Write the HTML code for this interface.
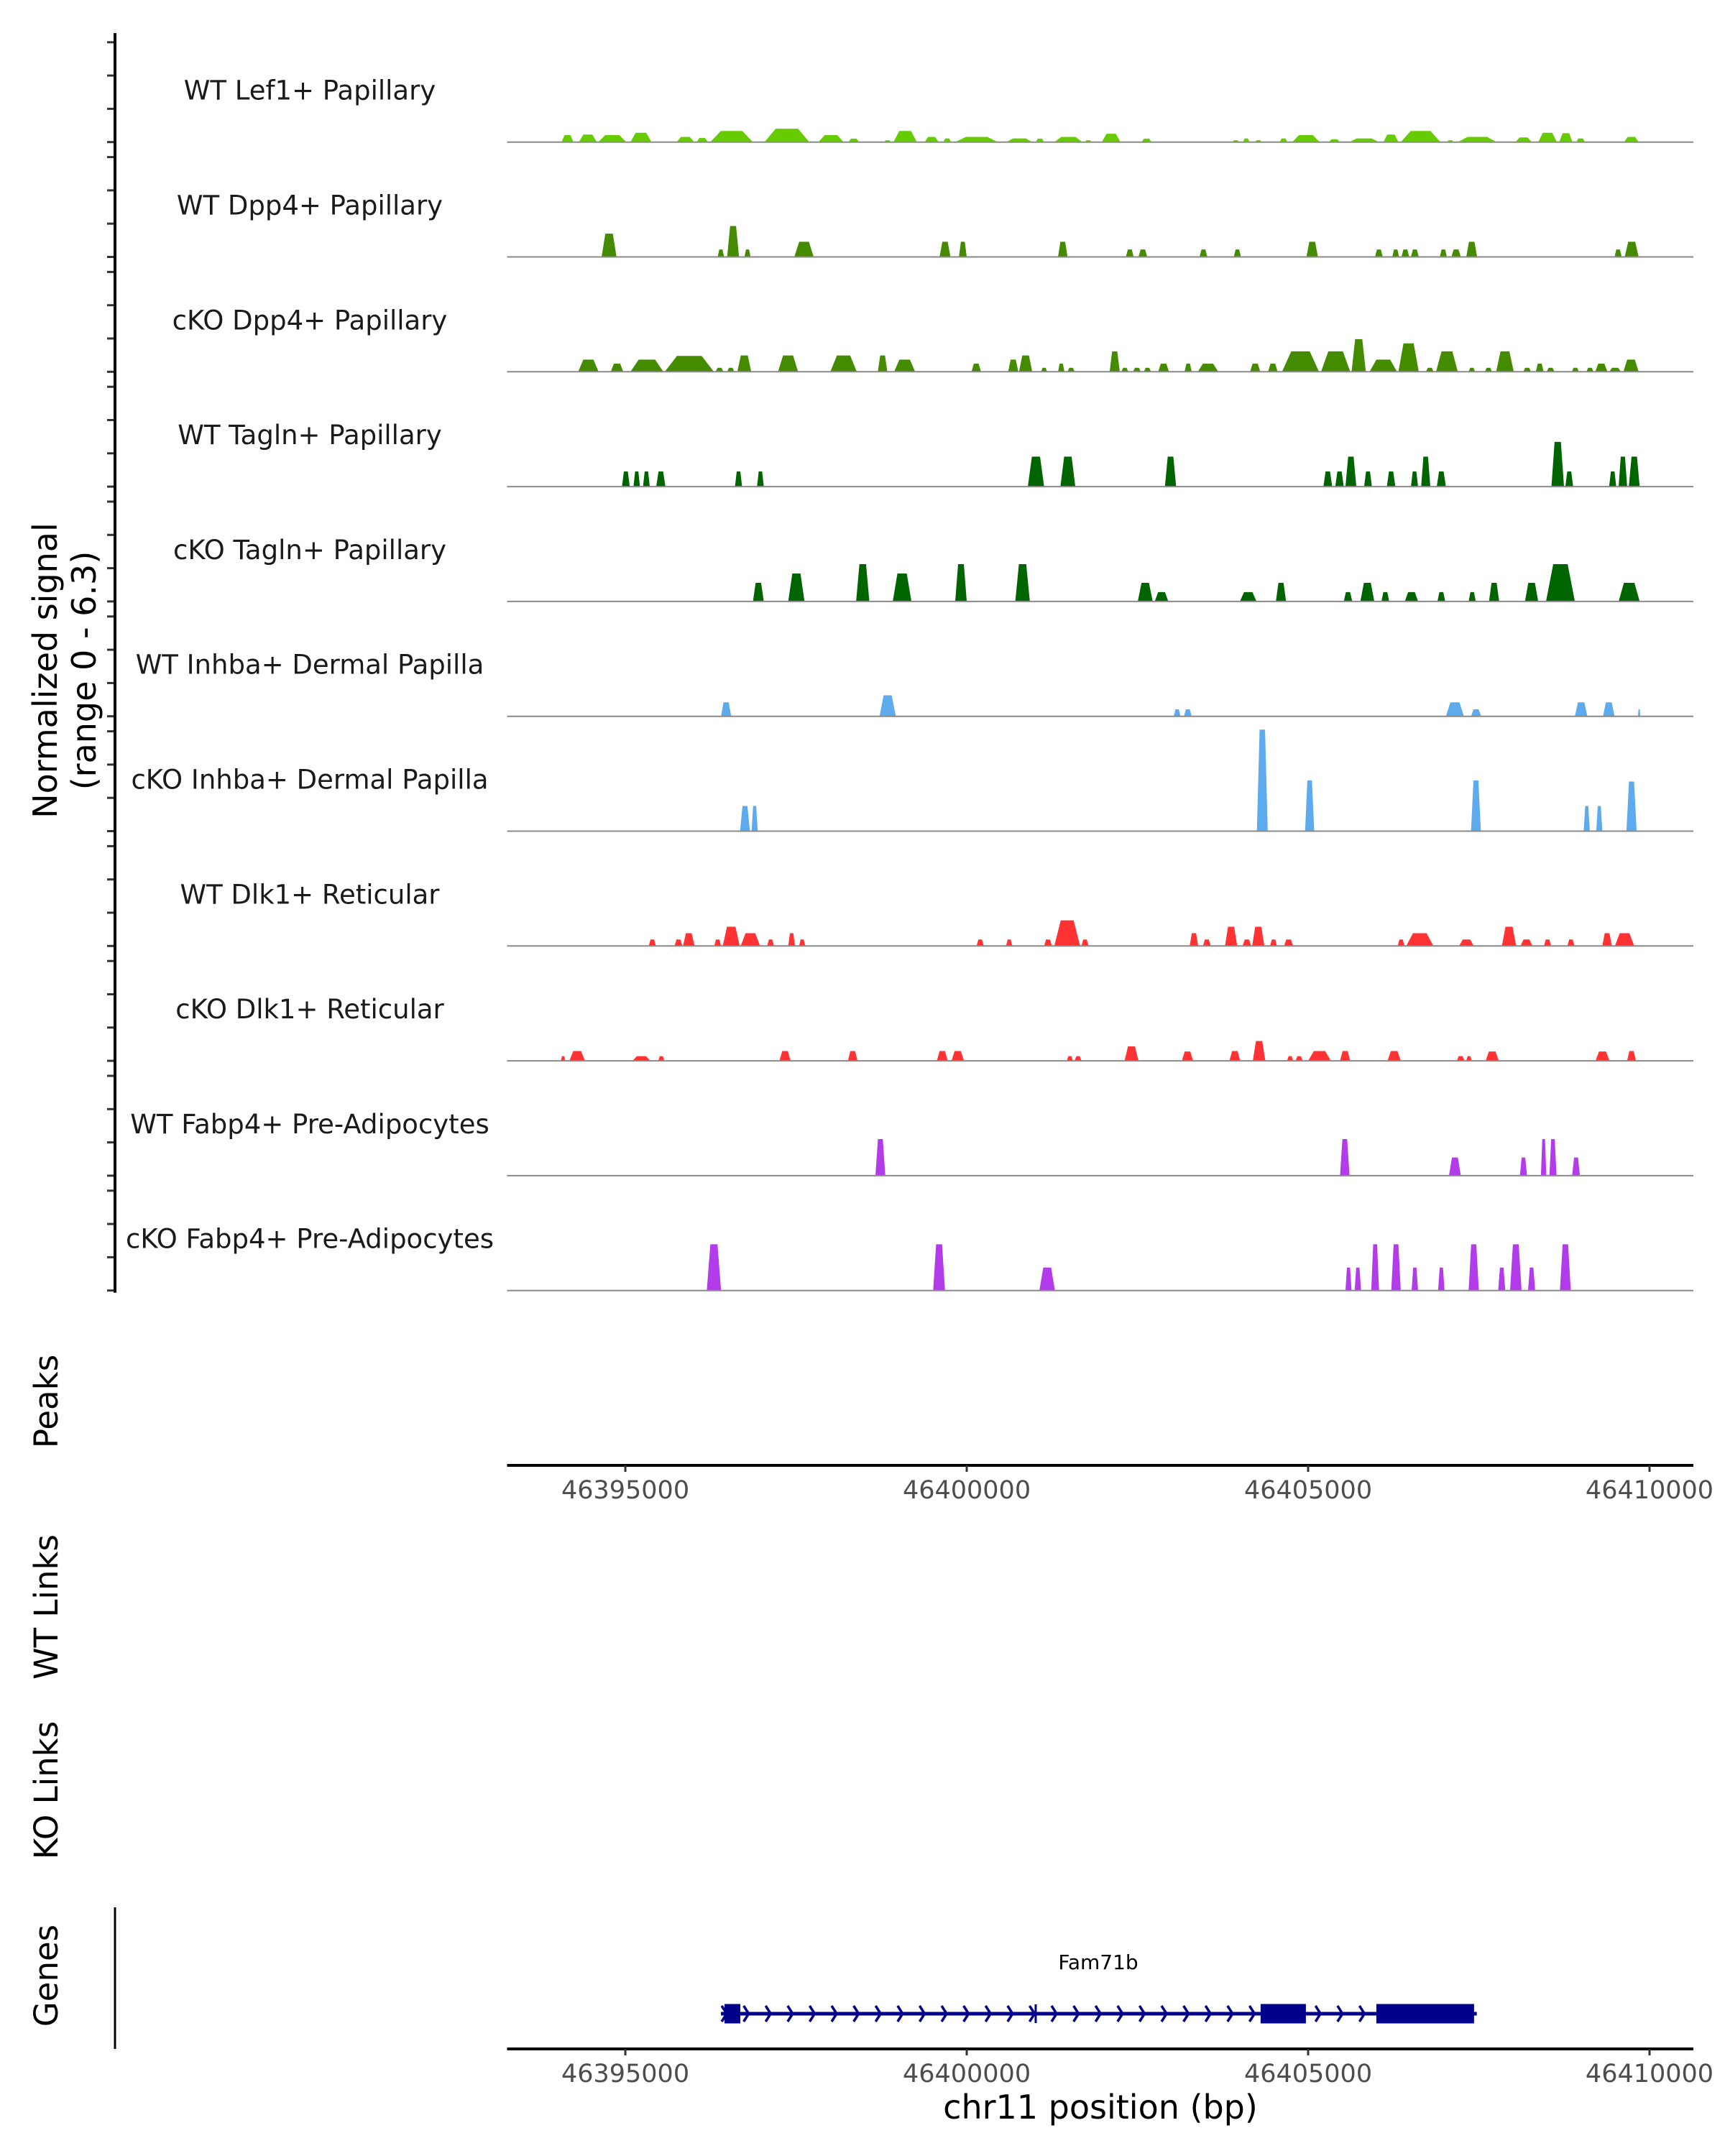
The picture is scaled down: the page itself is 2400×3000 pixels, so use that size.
<!DOCTYPE html>
<html><head><meta charset="utf-8"><style>
html,body{margin:0;padding:0;background:#fff}
svg{display:block}
text{font-family:"DejaVu Sans","Liberation Sans",sans-serif}
</style></head><body>
<svg id="chart" width="2400" height="3000" viewBox="0 0 2400 3000" xmlns="http://www.w3.org/2000/svg">
<g id="tracks"></g>
<g id="axes"></g>
<g id="genes"></g>
</svg>
<script>
// ---- data ----
const regionStart = 46393268;
const regionEnd = 46410642;
const peakBase = 46393211;
const xTicks = [46395000, 46400000, 46405000, 46410000];
const trackNames = ["WT Lef1+ Papillary","WT Dpp4+ Papillary","cKO Dpp4+ Papillary","WT Tagln+ Papillary","cKO Tagln+ Papillary","WT Inhba+ Dermal Papilla","cKO Inhba+ Dermal Papilla","WT Dlk1+ Reticular","cKO Dlk1+ Reticular","WT Fabp4+ Pre-Adipocytes","cKO Fabp4+ Pre-Adipocytes"];
const trackColors = ["#66CC00","#458B00","#458B00","#006400","#006400","#5DAAEC","#5DAAEC","#FF3333","#FF3333","#B23BEA","#B23BEA"];
// peaks: [startOffsetBp, endOffsetBp, signal]
const sigLef1WT = [[860,1035,0.42],[1115,1380,0.45],[1400,1815,0.42],[1875,2185,0.56],[2555,2815,0.31],[2850,3015,0.25],[3050,3680,0.67],[3850,4510,0.8],[4645,5015,0.42],[5085,5245,0.21],[5610,5715,0.11],[5750,6095,0.67],[6210,6415,0.31],[6485,6600,0.22],[6660,7290,0.31],[7415,7795,0.22],[7845,7970,0.21],[8120,8535,0.31],[8570,8670,0.11],[8820,9095,0.5],[9405,9555,0.21],[10740,10845,0.11],[10900,10995,0.22],[11075,11180,0.11],[11440,11555,0.22],[11625,12030,0.42],[12165,12330,0.17],[12465,12905,0.22],[12970,13190,0.45],[13225,13810,0.67],[13905,14005,0.11],[14065,14640,0.31],[14915,15155,0.28],[15250,15525,0.56],[15560,15755,0.53],[15810,15940,0.22],[16515,16730,0.31]];
const sigDpp4WT = [[1450,1670,1.4],[3160,3255,0.45],[3300,3475,1.86],[3555,3645,0.45],[4290,4575,0.91],[6430,6590,0.91],[6715,6830,0.91],[8175,8315,0.91],[9175,9290,0.45],[9360,9490,0.45],[10260,10375,0.45],[10765,10870,0.45],[11835,12005,0.91],[12845,12960,0.45],[13100,13200,0.45],[13235,13350,0.45],[13375,13490,0.45],[13800,13905,0.45],[13970,14110,0.45],[14190,14350,0.91],[16375,16480,0.45],[16525,16730,0.91]];
const sigDpp4KO = [[1105,1405,0.73],[1585,1770,0.49],[1875,2360,0.73],[2380,3105,0.95],[3130,3245,0.24],[3300,3405,0.24],[3450,3655,0.98],[4050,4345,0.98],[4820,5210,0.98],[5520,5660,0.98],[5760,6070,0.73],[6900,7040,0.49],[7440,7590,0.73],[7600,7795,0.98],[7925,8015,0.24],[8175,8270,0.49],[8315,8420,0.24],[8935,9085,1.23],[9110,9210,0.24],[9280,9395,0.24],[9440,9545,0.24],[9650,9810,0.49],[10040,10145,0.49],[10235,10535,0.49],[11005,11155,0.49],[11270,11410,0.49],[11475,12020,1.23],[12050,12480,1.23],[12500,12710,1.96],[12765,13170,0.73],[13190,13490,1.71],[13595,13710,0.24],[13745,14065,1.23],[14225,14320,0.24],[14465,14570,0.24],[14630,14890,1.23],[15030,15145,0.24],[15215,15330,0.49],[15375,15490,0.24],[15745,15850,0.24],[15960,16065,0.24],[16090,16270,0.49],[16295,16470,0.24],[16505,16730,0.73]];
const sigTaglnWT = [[1750,1865,0.91],[1920,2015,0.91],[2060,2160,0.91],[2255,2390,0.91],[3415,3520,0.91],[3740,3840,0.91],[7730,7970,1.8],[8210,8430,1.8],[9750,9915,1.8],[12085,12215,0.91],[12260,12385,0.91],[12410,12570,1.8],[12685,12800,0.91],[13020,13145,0.91],[13375,13480,0.91],[13525,13660,1.8],[13755,13890,0.91],[15445,15630,2.69],[15650,15765,0.91],[16295,16400,0.91],[16435,16560,1.8],[16585,16745,1.8]];
const sigTaglnKO = [[3680,3840,1.12],[4200,4440,1.68],[5200,5395,2.24],[5740,6015,1.68],[6660,6830,2.24],[7545,7760,2.24],[9350,9570,1.12],[9600,9800,0.56],[10855,11100,0.56],[11385,11535,1.12],[12385,12510,0.56],[12630,12835,1.12],[12940,13055,0.56],[13285,13480,0.56],[13765,13880,0.56],[14225,14330,0.56],[14525,14675,1.12],[15055,15250,1.12],[15365,15790,2.24],[16435,16745,1.12]];
const sigInhbaWT = [[3210,3360,0.84],[5545,5785,1.26],[9880,9980,0.42],[10030,10145,0.42],[13890,14155,0.84],[14260,14410,0.42],[15790,15975,0.84],[16205,16375,0.84],[16720,16755,0.42]];
const sigInhbaKO = [[3490,3635,1.51],[3660,3750,1.51],[11105,11265,6.1],[11815,11950,3.05],[14260,14405,3.05],[15920,16010,1.51],[16105,16195,1.51],[16550,16700,2.98]];
const sigDlk1WT = [[2145,2250,0.39],[2525,2640,0.39],[2650,2820,0.77],[3110,3210,0.39],[3235,3485,1.16],[3500,3785,0.77],[3890,3990,0.39],[4200,4300,0.77],[4360,4450,0.39],[6975,7080,0.39],[7410,7500,0.39],[7970,8085,0.39],[8120,8500,1.54],[8520,8625,0.39],[10115,10240,0.77],[10310,10425,0.39],[10635,10815,1.16],[10895,11020,0.39],[11035,11215,1.16],[11300,11400,0.39],[11505,11640,0.39],[13180,13280,0.39],[13305,13705,0.77],[14085,14300,0.39],[14715,14925,1.16],[14990,15165,0.39],[15335,15440,0.39],[15680,15785,0.39],[16195,16335,0.77],[16380,16665,0.77]];
const sigDlk1KO = [[850,915,0.28],[975,1205,0.59],[1905,2170,0.28],[2285,2375,0.28],[4070,4235,0.59],[5080,5220,0.59],[6390,6550,0.59],[6605,6790,0.59],[8305,8395,0.28],[8420,8520,0.28],[9155,9360,0.87],[10000,10165,0.56],[10700,10860,0.59],[11045,11230,1.19],[11550,11640,0.28],[11675,11780,0.28],[11860,12195,0.59],[12330,12480,0.59],[13030,13225,0.59],[14050,14165,0.28],[14190,14270,0.28],[14475,14670,0.56],[16095,16300,0.56],[16560,16690,0.59]];
const sigFabp4WT = [[5485,5630,2.2],[12330,12470,2.2],[13935,14110,1.09],[14980,15085,1.09],[15290,15370,2.2],[15415,15520,2.2],[15750,15865,1.09]];
const sigFabp4KO = [[3000,3210,2.78],[6335,6510,2.78],[7900,8130,1.38],[12410,12500,1.38],[12545,12640,1.38],[12790,12905,2.78],[13085,13225,2.78],[13385,13480,1.38],[13775,13870,1.38],[14225,14375,2.78],[14660,14765,1.38],[14835,15005,2.78],[15100,15205,1.38],[15570,15730,2.78]];
const trackSignals = [sigLef1WT,sigDpp4WT,sigDpp4KO,sigTaglnWT,sigTaglnKO,sigInhbaWT,sigInhbaKO,sigDlk1WT,sigDlk1KO,sigFabp4WT,sigFabp4KO];
const geneName = "Fam71b";
const geneStart = 46396400;
const geneEnd = 46407470;
const geneExons = [[46396452,46396684],[46404304,46404967],[46405999,46407430]];
const geneMarker = 46401010;

// ---- layout ----
const NS = "http://www.w3.org/2000/svg";
const X0 = 705.5, X1 = 2356;
const offScale = 0.994;
const firstBase = 197.7, trackStep = 159.8, pxPerUnit = 23.15;
function xs(bp){ return X0 + (bp - regionStart) / (regionEnd - regionStart) * (X1 - X0); }
function ys(i, v){ return firstBase + i*trackStep - v*pxPerUnit; }
function mk(tag, attrs, parent){ const e = document.createElementNS(NS, tag); for (const k in attrs) e.setAttribute(k, attrs[k]); parent.appendChild(e); return e; }

const tracksG = document.getElementById('tracks');
const axesG = document.getElementById('axes');
const genesG = document.getElementById('genes');

trackNames.forEach((name, i) => {
  const g = mk('g', {}, tracksG);
  
  
  const base = ys(i, 0);
  trackSignals[i].forEach(p => {
    const s = xs(peakBase + p[0]*offScale), e = xs(peakBase + p[1]*offScale);
    const w = e - s, top = ys(i, p[2]);
    const poly = mk('polygon', {points: `${s},${base} ${s+w*0.25},${top} ${e-w*0.25},${top} ${e},${base}`, fill: trackColors[i]}, g);
    
    
  });
  const bl = mk('line', {x1: X0, x2: X1, y1: base, y2: base, stroke: '#8a8a8a', 'stroke-width': 2}, g);
  
  
  const lbl = mk('text', {x: 431, y: base - 59, 'font-size': 37, fill: '#1a1a1a', 'text-anchor': 'middle'}, g);
  lbl.textContent = name;
  
  
  for (let k = 0; k < 4; k++) {
    const ty = base - k*2*pxPerUnit;
    const t = mk('line', {x1: 149, x2: 159, y1: ty, y2: ty, stroke: '#333', 'stroke-width': 3}, axesG);
    
    
  }
});

// left signal axis
const yAxis = mk('line', {x1: 160, x2: 160, y1: 46, y2: ys(10,0) + 3, stroke: '#000', 'stroke-width': 4}, axesG);


const yt1 = mk('text', {x: 0, y: 0, 'font-size': 46, 'text-anchor': 'middle', transform: 'translate(79,933) rotate(-90)'}, axesG);
yt1.textContent = 'Normalized signal';


const yt2 = mk('text', {x: 0, y: 0, 'font-size': 46, 'text-anchor': 'middle', transform: 'translate(133,933) rotate(-90)'}, axesG);
yt2.textContent = '(range 0 - 6.3)';



// side labels
[["Peaks",1950,"peaks-label"],["WT Links",2236,"wt-links-label"],["KO Links",2491,"ko-links-label"],["Genes",2749,"genes-label"]].forEach(d => {
  const t = mk('text', {x: 0, y: 0, 'font-size': 45, 'text-anchor': 'middle', transform: `translate(80,${d[1]}) rotate(-90)`}, axesG);
  t.textContent = d[0];
  
  
});

// x axes
function xAxis(y, nm){
  const l = mk('line', {x1: X0, x2: X1, y1: y, y2: y, stroke: '#000', 'stroke-width': 4}, axesG);
  
  
  xTicks.forEach(v => {
    const tx = xs(v);
    const t = mk('line', {x1: tx, x2: tx, y1: y, y2: y + 9, stroke: '#333', 'stroke-width': 3}, axesG);
    
    
    const lb = mk('text', {x: tx, y: y + 46, 'font-size': 35, fill: '#4d4d4d', 'text-anchor': 'middle'}, axesG);
    lb.textContent = String(v);
    
    
  });
}
xAxis(2039, 'peaks-x-axis');
xAxis(2851, 'genes-x-axis');
const xt = mk('text', {x: 1531, y: 2948, 'font-size': 46, 'text-anchor': 'middle'}, axesG);
xt.textContent = 'chr11 position (bp)';


const gl = mk('line', {x1: 160, x2: 160, y1: 2654, y2: 2851, stroke: '#000', 'stroke-width': 3}, axesG);



// gene model
const gy = 2802, gc = '#00008B';
const gLine = mk('line', {x1: xs(geneStart), x2: xs(geneEnd), y1: gy, y2: gy, stroke: gc, 'stroke-width': 5}, genesG);


for (let x = xs(geneStart) + 4; x < xs(geneEnd) - 10; x += 30.6) {
  const c = mk('polyline', {points: `${x-3},${gy-11} ${x+4},${gy} ${x-3},${gy+11}`, fill: 'none', stroke: gc, 'stroke-width': 3.5}, genesG);
  
  
}
geneExons.forEach(ex => {
  const r = mk('rect', {x: xs(ex[0]), y: gy - 13.5, width: xs(ex[1]) - xs(ex[0]), height: 27, fill: gc}, genesG);
  
  
});
const mkr = mk('line', {x1: xs(geneMarker), x2: xs(geneMarker), y1: gy - 13, y2: gy + 13, stroke: gc, 'stroke-width': 3}, genesG);


const gname = mk('text', {x: 1528, y: 2740, 'font-size': 28, 'text-anchor': 'middle', fill: '#000'}, genesG);
gname.textContent = geneName;


</script>
</body></html>
